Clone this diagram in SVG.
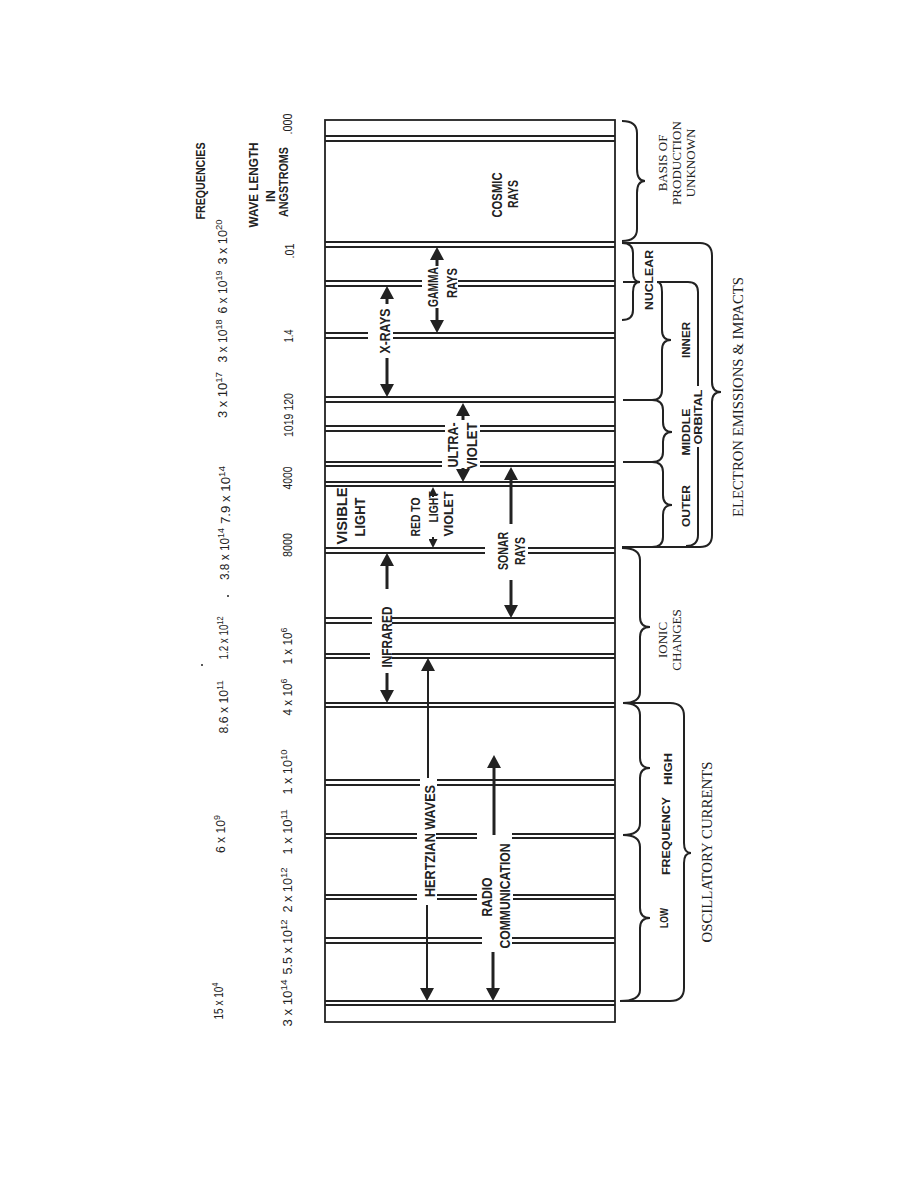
<svg xmlns="http://www.w3.org/2000/svg" width="918" height="1188" viewBox="0 0 918 1188">
<style>
.ln{stroke:#222;stroke-width:1.8;fill:none}
.br{stroke:#222;stroke-width:2;fill:none}
.ar{stroke:#222;stroke-width:3;fill:none;marker-end:url(#ah)}
.art{stroke:#222;stroke-width:2;fill:none;marker-end:url(#ah)}
.ars{stroke:#222;stroke-width:2;fill:none;marker-end:url(#ahs)}
text{fill:#222;text-anchor:middle}
.n{font-family:'Liberation Sans',Arial,sans-serif;font-size:12px}
.h{font-family:'Liberation Sans',Arial,sans-serif;font-size:13px;font-weight:bold}
.l{font-family:'Liberation Sans',Arial,sans-serif;font-size:14px;font-weight:bold}
.ls{font-family:'Liberation Sans',Arial,sans-serif;font-size:13px;font-weight:bold}
.b{font-family:'Liberation Sans',Arial,sans-serif;font-size:11px;font-weight:bold}
.s{font-family:'Liberation Serif','Times New Roman',serif;font-size:13px}
.sl{font-family:'Liberation Serif','Times New Roman',serif;font-size:14.5px}
</style>
<defs>
<marker id="ah" viewBox="0 0 13 14" markerWidth="13" markerHeight="14" refX="4" refY="7" orient="auto" markerUnits="userSpaceOnUse"><path d="M0,0L13,7L0,14z" fill="#222"/></marker>
<marker id="ahs" viewBox="0 0 9 9" markerWidth="9" markerHeight="9" refX="3" refY="4.5" orient="auto" markerUnits="userSpaceOnUse"><path d="M0,0L9,4.5L0,9z" fill="#222"/></marker>
</defs>
<rect width="918" height="1188" fill="#fff"/>

<g id="frame">
<rect x="325" y="120" width="290" height="902" class="ln" stroke-width="2"/>
</g>

<g id="bands">
<path class="ln" d="M325,136H615M325,141H615"/>
<path class="ln" d="M325,242H615M325,247H615"/>
<path class="ln" d="M325,281H422M458,281H615M325,286H422M458,286H615"/>
<path class="ln" d="M325,333H368M393,333H615M325,338H368M393,338H615"/>
<path class="ln" d="M325,397H615M325,402H615"/>
<path class="ln" d="M325,426H445M480,426H615M325,431H445M480,431H615"/>
<path class="ln" d="M325,462H442M480,462H615M325,466H442M480,466H615"/>
<path class="ln" d="M325,482H615M325,486H615"/>
<path class="ln" d="M325,548H485M528,548H615M325,553H485M528,553H615"/>
<path class="ln" d="M325,618H372M392,618H615M325,623H372M392,623H615"/>
<path class="ln" d="M325,654H370M392,654H615M325,658H370M392,658H615"/>
<path class="ln" d="M325,703H615M325,707H615"/>
<path class="ln" d="M325,780H420M437,780H615M325,785H420M437,785H615"/>
<path class="ln" d="M325,834H417M436,834H477M512,834H615M325,838H417M436,838H477M512,838H615"/>
<path class="ln" d="M325,895H417M437,895H477M513,895H615M325,899H417M437,899H477M513,899H615"/>
<path class="ln" d="M325,938H482M512,938H615M325,943H482M512,943H615"/>
<path class="ln" d="M325,1001H615M325,1005H615"/>
</g>

<g id="connectors">
<path class="ar" d="M437,266V256"/>
<path class="ar" d="M437,308V324"/>
<path class="ar" d="M387,304V295"/>
<path class="ar" d="M387,358V388"/>
<path class="ar" d="M463,420V412"/>
<path class="ar" d="M463,468V473"/>
<path class="ars" d="M433,497V493"/>
<path class="ars" d="M433,537V542"/>
<path class="ar" d="M511,524V476"/>
<path class="ar" d="M511,580V609"/>
<path class="ar" d="M387,589V562"/>
<path class="ar" d="M387,673V694"/>
<path class="art" d="M428,778V667"/>
<path class="art" d="M427,905V992"/>
<path class="ar" d="M494,835V764"/>
<path class="ar" d="M493,952V992"/>
</g>

<g id="braces">
<path id="brace-basis" class="br" d="M622,121Q637,121 637,133V169Q637,181 645,181Q637,181 637,193V229Q637,241 622,241"/>
<path id="brace-nuclear" class="br" d="M622,243Q633,243 633,253V272Q633,282 640,282Q633,282 633,292V310Q633,320 622,320"/>
<path id="brace-electron" class="br" d="M622,243H700Q712,243 712,256V382Q712,392 721,392Q712,392 712,402V535Q712,547 700,547H622"/>
<path id="brace-inner" class="br" d="M623,282H640M657,282Q662,282 662,292V330Q662,340 671,340Q662,340 662,350V390Q662,400 652,400H623"/>
<path id="brace-middle" class="br" d="M652,400Q663,400 663,410V422Q663,432 672,432Q663,432 663,442V452Q663,462 652,462H623"/>
<path id="brace-outer" class="br" d="M652,462Q663,462 663,472V495Q663,505 672,505Q663,505 663,515V537Q663,547 652,547"/>
<path id="brace-orbital" class="br" d="M657,282H688Q698,282 698,292V386M698,447V535Q698,546 686,546"/>
<path id="brace-ionic" class="br" d="M622,548Q640,548 640,560V617Q640,627 650,627Q640,627 640,637V692Q640,703 623,703"/>
<path id="brace-high" class="br" d="M623,703Q640,703 640,715V758Q640,768 650,768Q640,768 640,778V823Q640,835 623,835"/>
<path id="brace-low" class="br" d="M623,835Q640,835 640,847V908Q640,918 650,918Q640,918 640,928V990Q640,1001 620,1001"/>
<path id="brace-osc" class="br" d="M623,703H670Q684,703 684,716V843Q684,853 691,853Q684,853 684,863V988Q684,1001 670,1001H620"/>
</g>

<g id="scale-labels">
<text class="h" transform="translate(205,181) rotate(-90)" textLength="77" lengthAdjust="spacingAndGlyphs">FREQUENCIES</text>
<text class="h" transform="translate(258,185) rotate(-90)" textLength="85" lengthAdjust="spacingAndGlyphs">WAVE LENGTH</text>
<text class="h" transform="translate(275,196) rotate(-90)" textLength="12" lengthAdjust="spacingAndGlyphs">IN</text>
<text class="h" transform="translate(288,182) rotate(-90)" textLength="70" lengthAdjust="spacingAndGlyphs">ANGSTROMS</text>

<text class="n" transform="translate(227,242) rotate(-90)" textLength="45" lengthAdjust="spacingAndGlyphs">3 x 10<tspan dy="-5" font-size="9">20</tspan></text>
<text class="n" transform="translate(227,292) rotate(-90)" textLength="43" lengthAdjust="spacingAndGlyphs">6 x 10<tspan dy="-5" font-size="9">19</tspan></text>
<text class="n" transform="translate(227,341) rotate(-90)" textLength="43" lengthAdjust="spacingAndGlyphs">3 x 10<tspan dy="-5" font-size="9">18</tspan></text>
<text class="n" transform="translate(227,395) rotate(-90)" textLength="46" lengthAdjust="spacingAndGlyphs">3 x 10<tspan dy="-5" font-size="9">17</tspan></text>
<text class="n" transform="translate(230,495) rotate(-90)" textLength="58" lengthAdjust="spacingAndGlyphs">7.9 x 10<tspan dy="-5" font-size="9">14</tspan></text>
<text class="n" transform="translate(229,554) rotate(-90)" textLength="52" lengthAdjust="spacingAndGlyphs">3.8 x 10<tspan dy="-5" font-size="9">14</tspan></text>
<circle cx="228" cy="596" r="1" fill="#222"/>
<circle cx="202" cy="665" r="1" fill="#222"/>
<text class="n" transform="translate(228,638) rotate(-90)" textLength="43" lengthAdjust="spacingAndGlyphs">1.2 x 10<tspan dy="-5" font-size="9">12</tspan></text>
<text class="n" transform="translate(228,707) rotate(-90)" textLength="53" lengthAdjust="spacingAndGlyphs">8.6 x 10<tspan dy="-5" font-size="9">11</tspan></text>
<text class="n" transform="translate(225,834) rotate(-90)" textLength="38" lengthAdjust="spacingAndGlyphs">6 x 10<tspan dy="-5" font-size="9">9</tspan></text>
<text class="n" transform="translate(223,1001) rotate(-90)" textLength="37" lengthAdjust="spacingAndGlyphs">15 x 10<tspan dy="-5" font-size="9">4</tspan></text>

<text class="n" transform="translate(292,124) rotate(-90)" textLength="21" lengthAdjust="spacingAndGlyphs">.000</text>
<text class="n" transform="translate(294,251) rotate(-90)" textLength="15" lengthAdjust="spacingAndGlyphs">.01</text>
<text class="n" transform="translate(293,336) rotate(-90)" textLength="13" lengthAdjust="spacingAndGlyphs">1.4</text>
<text class="n" transform="translate(293,415) rotate(-90)" textLength="44" lengthAdjust="spacingAndGlyphs">1019 120</text>
<text class="n" transform="translate(292,478) rotate(-90)" textLength="23" lengthAdjust="spacingAndGlyphs">4000</text>
<text class="n" transform="translate(292,545) rotate(-90)" textLength="24" lengthAdjust="spacingAndGlyphs">8000</text>
<text class="n" transform="translate(292,646) rotate(-90)" textLength="37" lengthAdjust="spacingAndGlyphs">1 x 10<tspan dy="-5" font-size="9">6</tspan></text>
<text class="n" transform="translate(292,697) rotate(-90)" textLength="37" lengthAdjust="spacingAndGlyphs">4 x 10<tspan dy="-5" font-size="9">6</tspan></text>
<text class="n" transform="translate(292,772) rotate(-90)" textLength="45" lengthAdjust="spacingAndGlyphs">1 x 10<tspan dy="-5" font-size="9">10</tspan></text>
<text class="n" transform="translate(292,832) rotate(-90)" textLength="45" lengthAdjust="spacingAndGlyphs">1 x 10<tspan dy="-5" font-size="9">11</tspan></text>
<text class="n" transform="translate(292,890) rotate(-90)" textLength="45" lengthAdjust="spacingAndGlyphs">2 x 10<tspan dy="-5" font-size="9">12</tspan></text>
<text class="n" transform="translate(292,947) rotate(-90)" textLength="55" lengthAdjust="spacingAndGlyphs">5.5 x 10<tspan dy="-5" font-size="9">12</tspan></text>
<text class="n" transform="translate(292,1003) rotate(-90)" textLength="47" lengthAdjust="spacingAndGlyphs">3 x 10<tspan dy="-5" font-size="9">14</tspan></text>
</g>

<g id="cosmic-rays"><text class="l" transform="translate(502,195) rotate(-90)" textLength="45" lengthAdjust="spacingAndGlyphs">COSMIC</text><text class="l" transform="translate(518,194) rotate(-90)" textLength="28" lengthAdjust="spacingAndGlyphs">RAYS</text></g>
<g id="gamma-rays"><text class="l" transform="translate(438,287) rotate(-90)" textLength="40" lengthAdjust="spacingAndGlyphs">GAMMA</text><text class="l" transform="translate(457,283) rotate(-90)" textLength="30" lengthAdjust="spacingAndGlyphs">RAYS</text></g>
<g id="x-rays"><text class="l" transform="translate(390,331) rotate(-90)" textLength="45" lengthAdjust="spacingAndGlyphs">X-RAYS</text></g>
<g id="ultra-violet"><text class="l" transform="translate(458,445) rotate(-90)" textLength="45" lengthAdjust="spacingAndGlyphs">ULTRA-</text><text class="l" transform="translate(477,446) rotate(-90)" textLength="47" lengthAdjust="spacingAndGlyphs">VIOLET</text></g>
<g id="visible-light"><text class="l" transform="translate(347,516) rotate(-90)" textLength="57" lengthAdjust="spacingAndGlyphs">VISIBLE</text><text class="l" transform="translate(365,517) rotate(-90)" textLength="39" lengthAdjust="spacingAndGlyphs">LIGHT</text></g>
<g id="red-to-violet"><text class="ls" transform="translate(420,517) rotate(-90)" textLength="39" lengthAdjust="spacingAndGlyphs">RED TO</text><text class="ls" transform="translate(438,507) rotate(-90)" textLength="31" lengthAdjust="spacingAndGlyphs">LIGHT</text><text class="ls" transform="translate(453,514) rotate(-90)" textLength="45" lengthAdjust="spacingAndGlyphs">VIOLET</text></g>
<g id="sonar-rays"><text class="l" transform="translate(508,551) rotate(-90)" textLength="38" lengthAdjust="spacingAndGlyphs">SONAR</text><text class="l" transform="translate(525,551) rotate(-90)" textLength="28" lengthAdjust="spacingAndGlyphs">RAYS</text></g>
<g id="infrared"><text class="l" transform="translate(392,637) rotate(-90)" textLength="61" lengthAdjust="spacingAndGlyphs">INFRARED</text></g>
<g id="hertzian-waves"><text class="l" transform="translate(435,841) rotate(-90)" textLength="112" lengthAdjust="spacingAndGlyphs">HERTZIAN WAVES</text></g>
<g id="radio-communication"><text class="l" transform="translate(492,897) rotate(-90)" textLength="39" lengthAdjust="spacingAndGlyphs">RADIO</text><text class="l" transform="translate(510,896) rotate(-90)" textLength="105" lengthAdjust="spacingAndGlyphs">COMMUNICATION</text></g>

<g id="basis-unknown"><text class="s" transform="translate(667,163) rotate(-90)">BASIS OF</text><text class="s" transform="translate(681,163) rotate(-90)">PRODUCTION</text><text class="s" transform="translate(695,163) rotate(-90)">UNKNOWN</text></g>
<g id="nuclear"><text class="b" transform="translate(653,280) rotate(-90)" textLength="60" lengthAdjust="spacingAndGlyphs">NUCLEAR</text></g>
<g id="inner"><text class="b" transform="translate(690,340) rotate(-90)" textLength="36" lengthAdjust="spacingAndGlyphs">INNER</text></g>
<g id="middle"><text class="b" transform="translate(690,432) rotate(-90)" textLength="47" lengthAdjust="spacingAndGlyphs">MIDDLE</text></g>
<g id="outer"><text class="b" transform="translate(690,506) rotate(-90)" textLength="42" lengthAdjust="spacingAndGlyphs">OUTER</text></g>
<g id="orbital"><text class="b" transform="translate(702,417) rotate(-90)" textLength="55" lengthAdjust="spacingAndGlyphs">ORBITAL</text></g>
<g id="electron"><text class="sl" transform="translate(743,397) rotate(-90)" textLength="240" lengthAdjust="spacingAndGlyphs">ELECTRON EMISSIONS &amp; IMPACTS</text></g>
<g id="ionic-changes"><text class="s" transform="translate(667,640) rotate(-90)">IONIC</text><text class="s" transform="translate(681,640) rotate(-90)">CHANGES</text></g>
<g id="high"><text class="b" transform="translate(672,769) rotate(-90)" textLength="32" lengthAdjust="spacingAndGlyphs">HIGH</text></g>
<g id="frequency"><text class="b" transform="translate(670,836) rotate(-90)" textLength="78" lengthAdjust="spacingAndGlyphs">FREQUENCY</text></g>
<g id="low"><text class="b" transform="translate(668,918) rotate(-90)" textLength="20" lengthAdjust="spacingAndGlyphs">LOW</text></g>
<g id="oscillatory"><text class="sl" transform="translate(712,852) rotate(-90)" textLength="181" lengthAdjust="spacingAndGlyphs">OSCILLATORY CURRENTS</text></g>
</svg>
